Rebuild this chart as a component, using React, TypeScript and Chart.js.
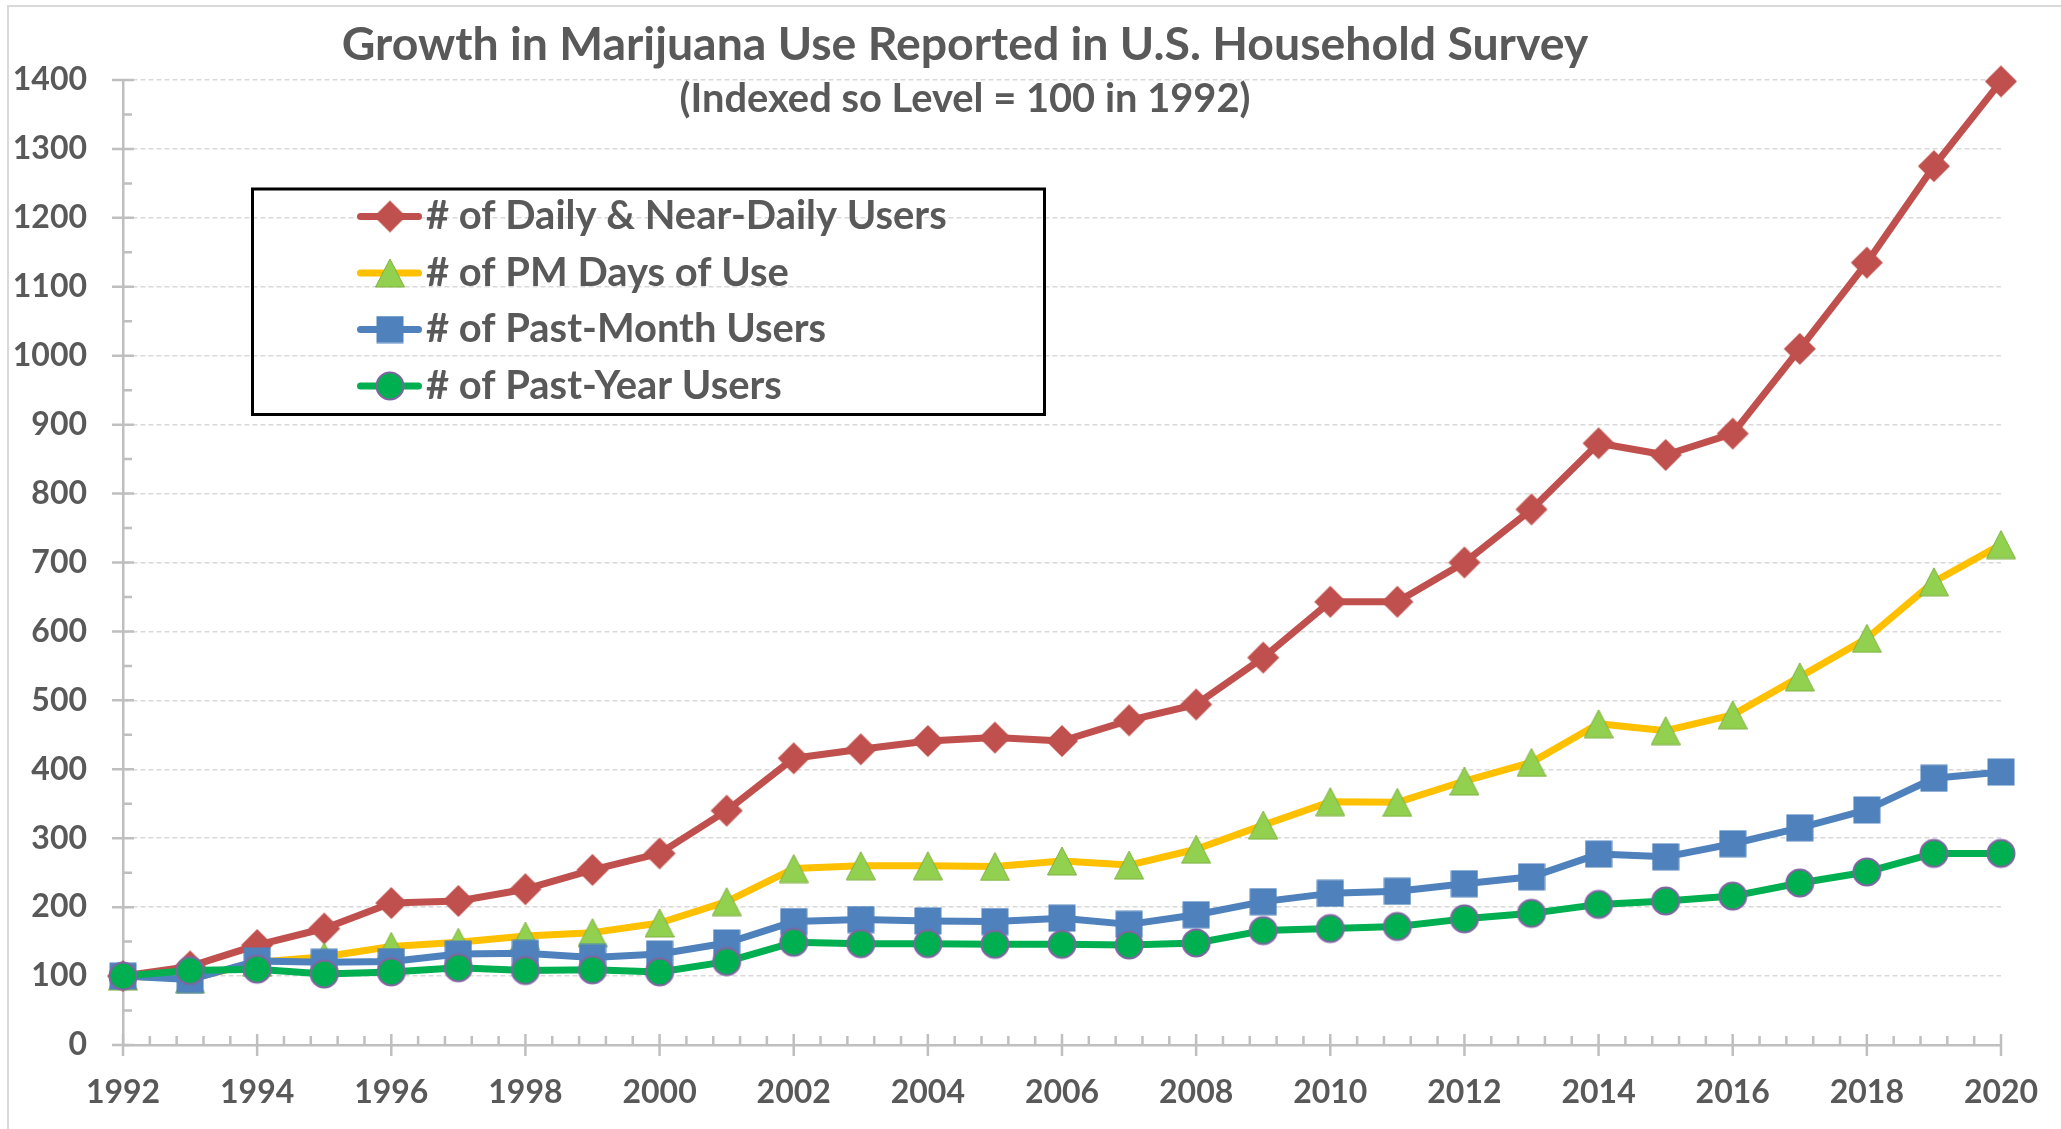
import React, { useEffect, useRef } from "react";
import { Chart, registerables } from "chart.js";

Chart.register(...registerables);

// ---------------- data ----------------
const TITLE = "Growth in Marijuana Use Reported in U.S. Household Survey";
const SUBTITLE = "(Indexed so Level = 100 in 1992)";

const years = [
  1992, 1993, 1994, 1995, 1996, 1997, 1998, 1999, 2000, 2001, 2002, 2003, 2004, 2005, 2006,
  2007, 2008, 2009, 2010, 2011, 2012, 2013, 2014, 2015, 2016, 2017, 2018, 2019, 2020,
];

const seriesLabels = [
  "# of Daily & Near-Daily Users",
  "# of PM Days of Use",
  "# of Past-Month Users",
  "# of Past-Year Users",
];

const dailyUsers = [
  100, 114, 145, 169, 206, 209, 226, 254, 278, 340, 416, 429, 441, 446, 441,
  471, 494, 562, 643, 643, 700, 777, 873, 856, 887, 1010, 1135, 1275, 1398,
];
const pmDaysOfUse = [
  100, 96, 120, 128, 143, 149, 158, 163, 177, 208, 256, 260, 260, 259, 267,
  261, 284, 319, 353, 352, 383, 410, 466, 456, 479, 534, 590, 672, 726,
];
const pastMonthUsers = [
  100, 95, 122, 120, 121, 132, 133, 127, 132, 148, 179, 182, 180, 179, 184,
  175, 189, 208, 220, 223, 234, 244, 277, 273, 292, 315, 341, 387, 396,
];
const pastYearUsers = [
  100, 108, 110, 103, 106, 112, 108, 109, 106, 121, 149, 147, 147, 146, 146,
  145, 148, 166, 169, 172, 183, 191, 204, 209, 216, 235, 251, 278, 278,
];

const xTickYears = [1992, 1994, 1996, 1998, 2000, 2002, 2004, 2006, 2008, 2010, 2012, 2014, 2016, 2018, 2020];
const yTickValues = [0, 100, 200, 300, 400, 500, 600, 700, 800, 900, 1000, 1100, 1200, 1300, 1400];

// ---------------- styles ----------------
const W = 2061;
const H = 1129;
const FONT = "Lato, 'Open Sans', 'Liberation Sans', sans-serif";
const TEXT = "#595959";
const AXIS = "#BFBFBF";
const GRID = "#D9D9D9";
const RED = "#C0504D";
const YELLOW = "#FFC000";
const TRI_GREEN = "#92D050";
const BLUE = "#4F81BD";
const GREEN = "#00B050";
const PURPLE = "#8064A2";

function makeMarker(kind: string): HTMLCanvasElement {
  const c = document.createElement("canvas");
  const ctx = c.getContext("2d")!;
  if (kind === "diamond") {
    c.width = 34; c.height = 34;
    ctx.fillStyle = RED;
    ctx.beginPath();
    ctx.moveTo(17, 1); ctx.lineTo(33, 17); ctx.lineTo(17, 33); ctx.lineTo(1, 17);
    ctx.closePath(); ctx.fill();
  } else if (kind === "triangle") {
    c.width = 30; c.height = 30;
    ctx.fillStyle = TRI_GREEN;
    ctx.strokeStyle = "#7FB140";
    ctx.lineWidth = 1;
    ctx.beginPath();
    ctx.moveTo(15, 1); ctx.lineTo(29.5, 29); ctx.lineTo(0.5, 29);
    ctx.closePath(); ctx.fill(); ctx.stroke();
  } else if (kind === "square") {
    c.width = 28; c.height = 28;
    ctx.fillStyle = BLUE;
    ctx.fillRect(0.5, 0.5, 27, 27);
  } else {
    c.width = 32; c.height = 32;
    ctx.fillStyle = GREEN;
    ctx.strokeStyle = PURPLE;
    ctx.lineWidth = 2;
    ctx.beginPath();
    ctx.arc(16, 16, 13.5, 0, Math.PI * 2);
    ctx.fill(); ctx.stroke();
  }
  return c;
}

function fitSize(ctx: CanvasRenderingContext2D, text: string, width: number): number {
  ctx.font = `bold 100px ${FONT}`;
  const w = ctx.measureText(text).width;
  return (100 * width) / w;
}

export default function App() {
  const ref = useRef<HTMLCanvasElement>(null);

  useEffect(() => {
    const canvas = ref.current;
    if (!canvas) return;

    const markers = [makeMarker("diamond"), makeMarker("triangle"), makeMarker("square"), makeMarker("circle")];
    const lineColors = [RED, YELLOW, BLUE, GREEN];
    const values = [dailyUsers, pmDaysOfUse, pastMonthUsers, pastYearUsers];

    const datasets = values.map((vals, i) => ({
      label: seriesLabels[i],
      data: years.map((yr, k) => ({ x: yr, y: vals[k] })),
      borderColor: lineColors[i],
      backgroundColor: lineColors[i],
      borderWidth: 7,
      borderJoinStyle: "round" as const,
      borderCapStyle: "round" as const,
      pointStyle: markers[i],
      pointRadius: 15,
      pointHoverRadius: 15,
      tension: 0,
      clip: false as const,
      order: 4 - i,
    }));

    const ticksPlugin = {
      id: "axisTicks",
      beforeDatasetsDraw(chart: any) {
        const { ctx, chartArea } = chart;
        const xs = chart.scales.x;
        const ys = chart.scales.y;
        const ax = chartArea.left;
        const ay = chartArea.bottom;
        ctx.save();
        ctx.strokeStyle = AXIS;
        ctx.lineWidth = 2.5;
        ctx.beginPath();
        for (const v of yTickValues) {
          const py = ys.getPixelForValue(v);
          ctx.moveTo(ax - 11, py); ctx.lineTo(ax + 11, py);
        }
        for (let k = 0; k < yTickValues.length - 1; k++) {
          const py = ys.getPixelForValue((yTickValues[k] + yTickValues[k + 1]) / 2);
          ctx.moveTo(ax, py); ctx.lineTo(ax + 9, py);
        }
        for (const v of xTickYears) {
          const px = xs.getPixelForValue(v);
          ctx.moveTo(px, ay - 11); ctx.lineTo(px, ay + 11);
        }
        for (let k = 0; k < xTickYears.length - 1; k++) {
          const a = xTickYears[k];
          const b = xTickYears[k + 1];
          for (let j = 1; j < 5; j++) {
            const px = xs.getPixelForValue(a + ((b - a) * j) / 5);
            ctx.moveTo(px, ay - 9); ctx.lineTo(px, ay);
          }
        }
        ctx.stroke();
        ctx.restore();
      },
    };

    const overlayPlugin = {
      id: "overlay",
      afterDraw(chart: any) {
        const ctx: CanvasRenderingContext2D = chart.ctx;
        ctx.save();
        // outer chart border
        ctx.strokeStyle = GRID;
        ctx.lineWidth = 2;
        ctx.strokeRect(8, 6, W + 50, H + 50);

        // title & subtitle
        ctx.fillStyle = TEXT;
        ctx.textAlign = "center";
        ctx.textBaseline = "alphabetic";
        const ts = fitSize(ctx, TITLE, 1247);
        ctx.font = `bold ${ts}px ${FONT}`;
        ctx.fillText(TITLE, 965, 60);
        const ss = fitSize(ctx, SUBTITLE, 571);
        ctx.font = `bold ${ss}px ${FONT}`;
        ctx.fillText(SUBTITLE, 965, 112);

        // legend box
        ctx.strokeStyle = "#000000";
        ctx.lineWidth = 3;
        ctx.strokeRect(252.5, 189, 792, 225.5);
        const rows = [216.5, 273, 329.5, 386];
        const ls = fitSize(ctx, seriesLabels[0], 521);
        for (let i = 0; i < 4; i++) {
          const ry = rows[i];
          ctx.strokeStyle = lineColors[i];
          ctx.lineWidth = 7;
          ctx.lineCap = "round";
          ctx.beginPath();
          ctx.moveTo(360.5, ry); ctx.lineTo(418.5, ry);
          ctx.stroke();
          const m = markers[i];
          ctx.drawImage(m, 390 - m.width / 2, ry - m.height / 2);
          ctx.fillStyle = TEXT;
          ctx.textAlign = "left";
          ctx.font = `bold ${ls}px ${FONT}`;
          ctx.fillText(seriesLabels[i], 426, ry + 12.5);
        }
        ctx.restore();
      },
    };

    const tickFont = { family: FONT, size: 32, weight: "bold" as const };

    const chart = new Chart(canvas, {
      type: "line",
      data: { datasets },
      options: {
        responsive: false,
        devicePixelRatio: 1,
        animation: false,
        events: [],
        layout: { padding: { top: 80, right: 60, bottom: 0, left: 0 } },
        plugins: {
          legend: { display: false },
          title: { display: false },
          tooltip: { enabled: false },
        },
        scales: {
          x: {
            type: "linear",
            min: 1992,
            max: 2020,
            afterBuildTicks: (s: any) => {
              s.ticks = xTickYears.map((v) => ({ value: v }));
            },
            afterFit: (s: any) => {
              s.height = 84;
              s.paddingLeft = 0;
              s.paddingRight = 0;
            },
            ticks: {
              callback: (v: any) => String(v),
              color: TEXT,
              font: tickFont,
              padding: 28,
              maxRotation: 0,
              autoSkip: false,
            },
            grid: { display: false, drawTicks: false },
            border: { display: true, color: AXIS, width: 2.5 },
          },
          y: {
            type: "linear",
            min: 0,
            max: 1400,
            afterBuildTicks: (s: any) => {
              s.ticks = yTickValues.map((v) => ({ value: v }));
            },
            afterFit: (s: any) => {
              s.width = 123;
              s.paddingTop = 0;
              s.paddingBottom = 0;
            },
            ticks: {
              callback: (v: any) => String(v),
              color: TEXT,
              font: tickFont,
              padding: 36,
              autoSkip: false,
            },
            grid: { color: GRID, lineWidth: 1.5, drawTicks: false },
            border: { display: true, color: AXIS, width: 2.5, dash: [5, 3] },
          },
        },
      },
      plugins: [ticksPlugin, overlayPlugin],
    } as any);

    return () => chart.destroy();
  }, []);

  return (
    <div
      style={{
        position: "fixed",
        left: 0,
        top: 0,
        width: W,
        height: H,
        background: "#ffffff",
        overflow: "hidden",
      }}
    >
      <canvas ref={ref} width={W} height={H} style={{ display: "block", width: W, height: H }} />
    </div>
  );
}
